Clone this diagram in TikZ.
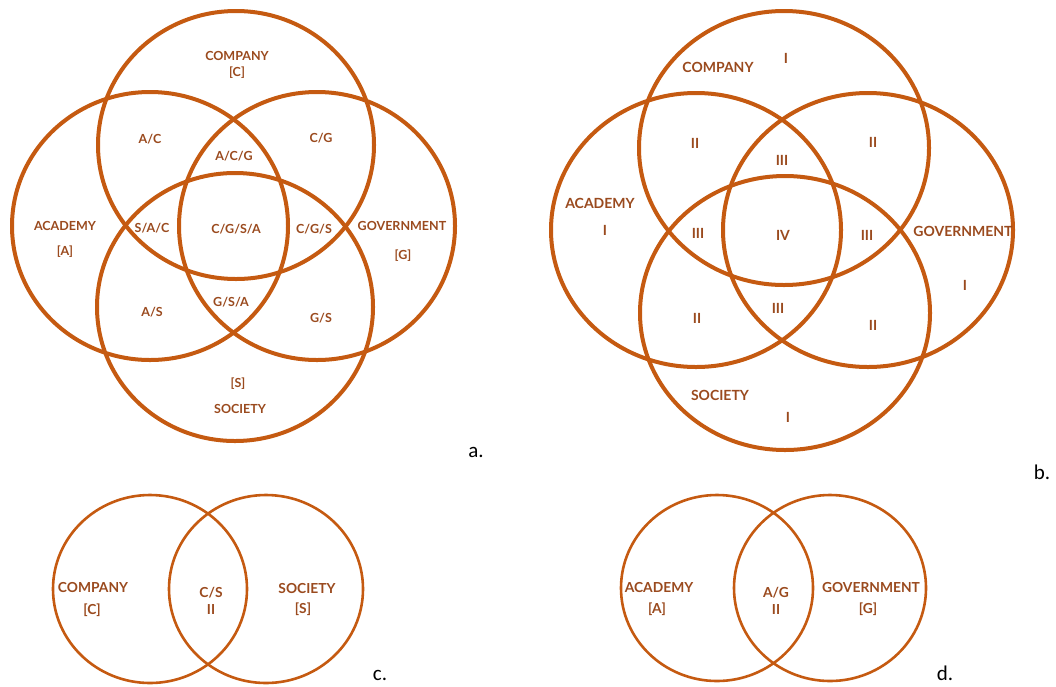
\documentclass[tikz,border=0pt]{standalone}
\usepackage{fontspec}
\setmainfont{Lato}
\newfontfamily\tagfont{Carlito}
\definecolor{venn}{HTML}{C55A11}
\definecolor{ink}{HTML}{9A4A1E}
\tikzset{
  ring/.style={draw=venn, line width=#1},
  ring/.default=4pt,
  lbl/.style={text=ink, inner sep=0pt, font=\bfseries\fontsize{#1}{#1}\selectfont},
  lbl/.default=12.5,
  tag/.style={inner sep=0pt, font=\tagfont\fontsize{21}{21}\selectfont}
}

\begin{document}
\begin{tikzpicture}[x=1pt,y=-1pt]
  \useasboundingbox (0,0) rectangle (1056,686);

  % a. the four sets with their overlaps
  \coordinate (aC) at (236,145);
  \coordinate (aA) at (150,226);
  \coordinate (aG) at (317,226);
  \coordinate (aS) at (235,307);
  \foreach \p in {aC,aA,aG,aS}
    \draw[ring] (\p) ellipse [x radius=138pt, y radius=134pt];

  \node[lbl] (acomp) at (237,56)  {COMPANY};
  \node[lbl] (ac)    at (237,73)  {[C]};
  \node[lbl] (aac)   at (150,139) {A/C};
  \node[lbl] (acg)   at (321,138) {C/G};
  \node[lbl] (aacg)  at (234,156) {A/C/G};
  \node[lbl] (aacad) at (65,226)  {ACADEMY};
  \node[lbl] (aa)    at (65,252)  {[A]};
  \node[lbl] (asac)  at (152,228) {S/A/C};
  \node[lbl] (acgsa) at (236,229) {C/G/S/A};
  \node[lbl] (acgs)  at (314,229) {C/G/S};
  \node[lbl] (agov)  at (402,226) {GOVERNMENT};
  \node[lbl] (ag)    at (403,256) {[G]};
  \node[lbl] (aas)   at (152,312) {A/S};
  \node[lbl] (agsa)  at (231,302) {G/S/A};
  \node[lbl] (ags)   at (321,318) {G/S};
  \node[lbl] (as)    at (238,384) {[S]};
  \node[lbl] (asoc)  at (240,409) {SOCIETY};
  \node[tag] (ta)    at (476,452) {a.};

  % b. the same sets, counted by level
  \coordinate (bC) at (784,148);
  \coordinate (bA) at (696,230);
  \coordinate (bG) at (868,230);
  \coordinate (bS) at (785,313);
  \foreach \p in {bC,bA,bG,bS}
    \draw[ring] (\p) ellipse [x radius=145pt, y radius=137pt];

  \node[lbl=14] (bcomp) at (718,67)  {COMPANY};
  \node[lbl=14] (bc)    at (786,58)  {I};
  \node[lbl=14] (bac)   at (695,143) {II};
  \node[lbl=14] (bcg)   at (873,142) {II};
  \node[lbl=14] (bacg)  at (782,160) {III};
  \node[lbl=14] (bacad) at (600,203) {ACADEMY};
  \node[lbl=14] (ba)    at (605,230) {I};
  \node[lbl=14] (bsac)  at (698,233) {III};
  \node[lbl=14] (bcgsa) at (783,235) {IV};
  \node[lbl=14] (bcgs)  at (867,235) {III};
  \node[lbl=14] (bgov)  at (963,231) {GOVERNMENT};
  \node[lbl=14] (bg)    at (965,285) {I};
  \node[lbl=14] (bas)   at (697,318) {II};
  \node[lbl=14] (bgsa)  at (778,308) {III};
  \node[lbl=14] (bgs)   at (873,325) {II};
  \node[lbl=14] (bsoc)  at (720,395) {SOCIETY};
  \node[lbl=14] (bs)    at (788,417) {I};
  \node[tag] (tb)       at (1042,472) {b.};

  % c. company and society
  \draw[ring=2.6pt] (150,589) ellipse [x radius=97pt, y radius=94pt];
  \draw[ring=2.6pt] (266,589) ellipse [x radius=97pt, y radius=94pt];
  \node[lbl=13.8] (ccomp) at (93,587)  {COMPANY};
  \node[lbl=13.8] (cc)    at (92,610)  {[C]};
  \node[lbl=13.8] (ccs)   at (211,593) {C/S};
  \node[lbl=13.8] (ccsn)  at (211,609) {II};
  \node[lbl=13.8] (csoc)  at (307,588) {SOCIETY};
  \node[lbl=13.8] (cs)    at (303,609) {[S]};
  \node[tag] (tc)         at (380,675) {c.};

  % d. academy and government
  \draw[ring=2.6pt] (717,588) ellipse [x radius=96pt, y radius=93pt];
  \draw[ring=2.6pt] (830,588) ellipse [x radius=96pt, y radius=93pt];
  \node[lbl=13.8] (dacad) at (659,587) {ACADEMY};
  \node[lbl=13.8] (da)    at (657,609) {[A]};
  \node[lbl=13.8] (dag)   at (776,593) {A/G};
  \node[lbl=13.8] (dagn)  at (776,609) {II};
  \node[lbl=13.8] (dgov)  at (871,587) {GOVERNMENT};
  \node[lbl=13.8] (dg)    at (868,609) {[G]};
  \node[tag] (td)         at (945,673) {d.};
\end{tikzpicture}
\end{document}
